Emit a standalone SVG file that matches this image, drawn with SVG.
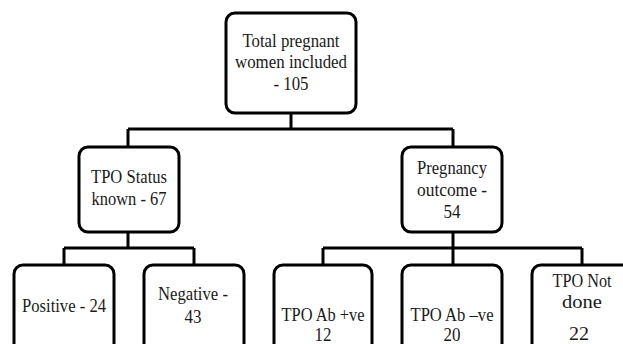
<svg xmlns="http://www.w3.org/2000/svg" width="623" height="344" viewBox="0 0 623 344">
<defs>
<style>
.box{fill:#fff;stroke:#000;stroke-width:3}
.ln{fill:none;stroke:#000;stroke-width:3}
</style>
</defs>
<rect width="623" height="344" fill="#fff"/>
<g id="connectors">
<path class="ln" d="M291 113V129M128 129H453M128 129V147M453 129V147"/>
<path class="ln" d="M128 232V248M64 248H194M64 248V265M194 248V265"/>
<path class="ln" d="M453 232V248M323 248H582M323 248V265M453 248V265M582 248V265"/>
</g>
<g id="n_total">
<rect class="box" x="226" y="13" width="130" height="100" rx="9"/>
<text font-family="Liberation Serif" font-size="19" fill="#1a1a1a" text-anchor="middle" x="291" y="47" textLength="97" lengthAdjust="spacingAndGlyphs">Total pregnant</text>
<text font-family="Liberation Serif" font-size="19" fill="#1a1a1a" text-anchor="middle" x="291" y="68" textLength="112" lengthAdjust="spacingAndGlyphs">women included</text>
<text font-family="Liberation Serif" font-size="19" fill="#1a1a1a" text-anchor="middle" x="291" y="90" textLength="35" lengthAdjust="spacingAndGlyphs">- 105</text>
</g>
<g id="n_tpo_status">
<rect class="box" x="79" y="147" width="100" height="85" rx="9"/>
<text font-family="Liberation Serif" font-size="19" fill="#1a1a1a" text-anchor="middle" x="129" y="183" textLength="76" lengthAdjust="spacingAndGlyphs">TPO Status</text>
<text font-family="Liberation Serif" font-size="19" fill="#1a1a1a" text-anchor="middle" x="129" y="205" textLength="75" lengthAdjust="spacingAndGlyphs">known - 67</text>
</g>
<g id="n_outcome">
<rect class="box" x="402" y="147" width="100" height="85" rx="9"/>
<text font-family="Liberation Serif" font-size="19" fill="#1a1a1a" text-anchor="middle" x="452" y="174" textLength="70" lengthAdjust="spacingAndGlyphs">Pregnancy</text>
<text font-family="Liberation Serif" font-size="19" fill="#1a1a1a" text-anchor="middle" x="452" y="196" textLength="70" lengthAdjust="spacingAndGlyphs">outcome -</text>
<text font-family="Liberation Serif" font-size="19" fill="#1a1a1a" text-anchor="middle" x="452" y="218" textLength="17" lengthAdjust="spacingAndGlyphs">54</text>
</g>
<g id="n_positive">
<rect class="box" x="14" y="265" width="100" height="100" rx="9"/>
<text font-family="Liberation Serif" font-size="19" fill="#1a1a1a" text-anchor="middle" x="64" y="312" textLength="84" lengthAdjust="spacingAndGlyphs">Positive - 24</text>
</g>
<g id="n_negative">
<rect class="box" x="144" y="265" width="100" height="100" rx="9"/>
<text font-family="Liberation Serif" font-size="19" fill="#1a1a1a" text-anchor="middle" x="193" y="300" textLength="70" lengthAdjust="spacingAndGlyphs">Negative -</text>
<text font-family="Liberation Serif" font-size="19" fill="#1a1a1a" text-anchor="middle" x="193" y="323" textLength="17" lengthAdjust="spacingAndGlyphs">43</text>
</g>
<g id="n_ab_pos">
<rect class="box" x="274" y="265" width="98" height="100" rx="9"/>
<text font-family="Liberation Serif" font-size="19" fill="#1a1a1a" text-anchor="middle" x="323" y="321" textLength="83" lengthAdjust="spacingAndGlyphs">TPO Ab +ve</text>
<text font-family="Liberation Serif" font-size="19" fill="#1a1a1a" text-anchor="middle" x="323" y="341" textLength="17" lengthAdjust="spacingAndGlyphs">12</text>
</g>
<g id="n_ab_neg">
<rect class="box" x="402" y="265" width="100" height="100" rx="9"/>
<text font-family="Liberation Serif" font-size="19" fill="#1a1a1a" text-anchor="middle" x="452" y="321" textLength="83" lengthAdjust="spacingAndGlyphs">TPO Ab –ve</text>
<text font-family="Liberation Serif" font-size="19" fill="#1a1a1a" text-anchor="middle" x="452" y="341" textLength="17" lengthAdjust="spacingAndGlyphs">20</text>
</g>
<g id="n_not_done">
<rect class="box" x="532" y="265" width="100" height="100" rx="9"/>
<text font-family="Liberation Serif" font-size="19" fill="#1a1a1a" text-anchor="middle" x="582" y="287" textLength="59" lengthAdjust="spacingAndGlyphs">TPO Not</text>
<text font-family="Liberation Serif" font-size="19" fill="#1a1a1a" text-anchor="middle" x="582" y="308" textLength="40" lengthAdjust="spacingAndGlyphs">done</text>
<text font-family="Liberation Serif" font-size="19" fill="#1a1a1a" text-anchor="middle" x="579" y="340" textLength="20" lengthAdjust="spacingAndGlyphs">22</text>
</g>
</svg>
